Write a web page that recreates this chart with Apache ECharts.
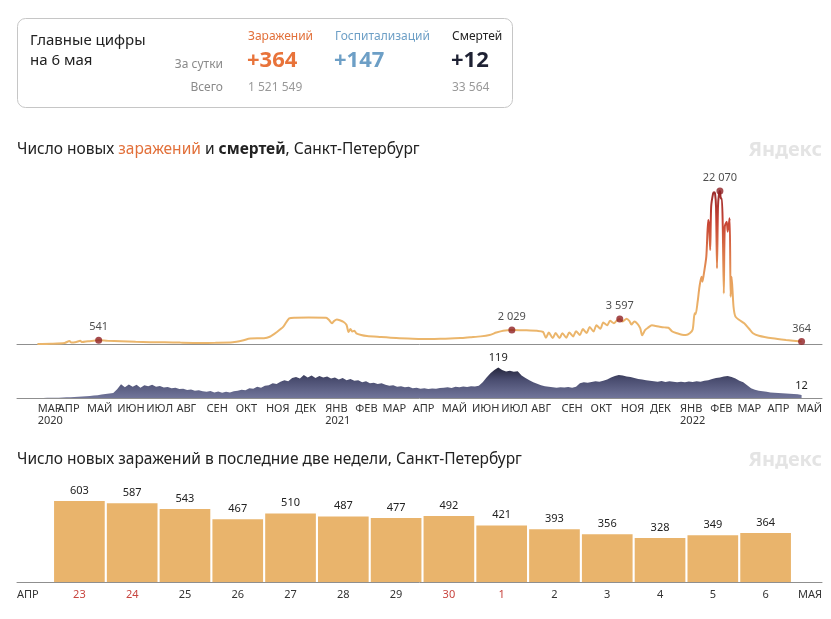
<!DOCTYPE html>
<html lang="ru">
<head>
<meta charset="UTF-8">
<title>Коронавирус, Санкт-Петербург</title>
<style>
    html, body { margin: 0; padding: 0; background: #fff; }
    #main { width: 831px; height: 619px; }
</style>
</head>
<body>
<div id="main"></div>
<script src="https://cdn.jsdelivr.net/npm/echarts@6/dist/echarts.min.js"></script>
<script>
// новые заражения (точки)
var infectionDates = [
    '2020-03-11','2020-03-25','2020-04-08','2020-04-13','2020-04-15','2020-04-20','2020-04-24','2020-04-26',
    '2020-05-02','2020-05-08','2020-05-13','2020-05-22','2020-06-05','2020-06-20','2020-07-05','2020-07-20',
    '2020-08-05','2020-08-25','2020-09-10','2020-09-28','2020-10-08','2020-10-16','2020-10-30','2020-11-05',
    '2020-11-12','2020-11-19','2020-11-25','2020-12-01','2020-12-15','2021-01-02','2021-01-05','2021-01-08',
    '2021-01-10','2021-01-13','2021-01-16','2021-01-20','2021-01-23','2021-01-25','2021-01-27','2021-01-29',
    '2021-01-31','2021-02-02','2021-02-07','2021-02-13','2021-02-26','2021-03-15','2021-04-01','2021-04-20',
    '2021-05-01','2021-05-20','2021-05-30','2021-06-10','2021-06-19','2021-06-26','2021-07-03','2021-07-12',
    '2021-07-25','2021-08-07','2021-08-13','2021-08-16','2021-08-19','2021-08-23','2021-08-26','2021-08-30',
    '2021-09-02','2021-09-06','2021-09-09','2021-09-13','2021-09-16','2021-09-20','2021-09-23','2021-09-27',
    '2021-09-30','2021-10-04','2021-10-07','2021-10-11','2021-10-14','2021-10-18','2021-10-21','2021-10-25',
    '2021-10-28','2021-10-31','2021-11-03','2021-11-07','2021-11-10','2021-11-12','2021-11-15','2021-11-18',
    '2021-11-21','2021-11-23','2021-11-26','2021-11-29','2021-12-03','2021-12-07','2021-12-11','2021-12-16',
    '2021-12-20','2021-12-24','2021-12-29','2022-01-03','2022-01-07','2022-01-11','2022-01-14','2022-01-16',
    '2022-01-17','2022-01-19','2022-01-21','2022-01-23','2022-01-24','2022-01-25','2022-01-28','2022-01-30',
    '2022-01-31','2022-02-01','2022-02-02','2022-02-04','2022-02-05','2022-02-06','2022-02-07','2022-02-08',
    '2022-02-09','2022-02-10','2022-02-11','2022-02-12','2022-02-13','2022-02-14','2022-02-15','2022-02-16',
    '2022-02-18','2022-02-19','2022-02-21','2022-02-22','2022-02-23','2022-02-25','2022-02-27','2022-03-03',
    '2022-03-08','2022-03-13','2022-03-17','2022-03-23','2022-04-06','2022-04-20','2022-05-06'
];
var infectionValues = [
    5, 40, 150, 430, 200, 300, 460, 280,
    400, 470, 541, 470, 400, 320, 260, 250,
    200, 160, 170, 240, 500, 800, 830, 1050,
    1700, 2500, 3700, 3800, 3820, 3800, 3460, 3000,
    3300, 3530, 3420, 3170, 2740, 1730, 2160, 1800,
    1900, 1540, 1300, 1150, 1010, 850, 765, 720,
    760, 850, 970, 1100, 1300, 1650, 1920, 2029,
    1980, 1900, 1750, 900, 1650, 850, 1600, 850,
    1550, 900, 1650, 1100, 1850, 1300, 2150, 1600,
    2450, 1800, 2700, 2200, 3100, 2700, 3350, 3000,
    3400, 3597, 3250, 3650, 3300, 2800, 3250, 2950,
    2300, 1250, 2000, 2350, 2700, 2600, 2500, 2400,
    2350, 1800, 1550, 1350, 1300, 1540, 2100, 4430,
    4300, 6000, 8270, 9710, 9000, 9710, 12600, 17900,
    16930, 13560, 19810, 21740, 21900, 21700, 19810, 10920,
    19810, 21600, 22070, 21000, 21000, 16450, 7300, 16930,
    17650, 16210, 18140, 6830, 9710, 5380, 3940, 3460,
    2990, 2200, 1550, 1200, 820, 580, 364
];

// подписанные точки
var markDates = ['2020-05-13', '2021-07-12', '2021-10-31', '2022-02-11', '2022-05-06'];
var markValues = [541, 2029, 3597, 22070, 364];

// смерти: с 13 марта 2020, шаг 4 дня
var deathStart = [2020, 2, 13];
var deathStep = 4;
var deathValues = [
    0, 0, 1, 1, 1,
    1, 2, 3, 3, 4, 5, 6, 7,
    8, 10, 11, 14, 16, 18, 20,
    34, 54, 42, 53, 44, 52, 40, 50,
    46, 52, 44, 47, 41, 43, 38, 40,
    35, 36, 31, 33, 28, 30, 26,
    24, 27, 22, 25, 21, 24, 22, 26,
    28, 32, 30, 38, 36, 44, 40, 48,
    50, 58, 55, 64, 70, 66, 78,
    82, 76, 90, 80, 88, 78, 86, 80,
    84, 76, 80, 72, 78, 70, 74, 68,
    70, 62, 66, 58, 60, 55, 58,
    52, 48, 50, 44, 46, 42, 44,
    38, 40, 36, 38, 35, 37, 36, 39,
    40, 42, 39, 44, 42, 45, 43, 46,
    45, 48, 62, 80, 97, 110, 119,
    110, 104, 107, 103, 105, 88, 78, 70,
    62, 56, 50, 46, 44, 42, 40, 42,
    41, 43, 40, 44, 58, 62, 60,
    63, 66, 64, 68, 72, 80, 86, 90,
    88, 84, 82, 78, 74, 72, 70,
    68, 66, 64, 67, 63, 66, 64, 62,
    64, 62, 65, 63, 66, 64, 68, 70,
    74, 78, 80, 84, 86, 82, 76,
    68, 62, 50, 38, 32, 28, 26, 24,
    22, 21, 20, 19, 18, 17, 16,
    15, 12
];

// последние две недели
var barDays = ['23', '24', '25', '26', '27', '28', '29', '30', '1', '2', '3', '4', '5', '6'];
var barValues = [603, 587, 543, 467, 510, 487, 477, 492, 421, 393, 356, 328, 349, 364];
var redDays = ['23', '24', '30', '1'];

var monthNames = ['ЯНВ', 'ФЕВ', 'МАР', 'АПР', 'МАЙ', 'ИЮН', 'ИЮЛ', 'АВГ', 'СЕН', 'ОКТ', 'НОЯ', 'ДЕК'];

var FONT = '"Noto Sans", "Open Sans", sans-serif';
var DAY = 24 * 3600 * 1000;

function spaced(v) {
    return String(v).replace(/\B(?=(\d{3})+(?!\d))/g, ' ');
}

var infectionData = infectionDates.map(function (d, i) { return [d, infectionValues[i]]; });
var markData = markDates.map(function (d, i) { return [d, markValues[i]]; });
var deathData = deathValues.map(function (v, i) {
    var d = new Date(deathStart[0], deathStart[1], deathStart[2] + deathStep * i);
    return [d.getTime(), v];
});
var lastDeath = deathData[deathData.length - 1];

var chart = echarts.init(document.getElementById('main'));

var option = {
    animation: false,
    textStyle: { fontFamily: FONT },
    grid: [
        { left: 17, right: 9, top: 150, bottom: 275 },
        { left: 17, right: 9, top: 350, bottom: 221 },
        { left: 53, right: 39, top: 488, bottom: 37 },
        { left: 17, right: 9, top: 581, bottom: 37 }
    ],
    xAxis: [
        {
            type: 'time', gridIndex: 0, min: '2020-02-19', max: '2022-05-27',
            axisLine: { lineStyle: { color: '#8f8f8f', width: 1 } },
            axisTick: { show: false }, axisLabel: { show: false }, splitLine: { show: false }
        },
        {
            type: 'time', gridIndex: 1, min: '2020-02-19', max: '2022-05-27',
            minInterval: 28 * DAY, maxInterval: 31 * DAY,
            axisLine: { lineStyle: { color: '#8f8f8f', width: 1 } },
            axisTick: { show: false }, splitLine: { show: false },
            axisLabel: {
                align: 'left', margin: 5, fontSize: 11, lineHeight: 12, color: '#333',
                fontFamily: FONT,
                formatter: function (v) {
                    var d = new Date(v);
                    var m = monthNames[d.getMonth()];
                    if (d.getFullYear() === 2020 && d.getMonth() === 2) {
                        return '{f|' + m + '}\n{f|2020}';
                    }
                    if (d.getMonth() === 0) return m + '\n' + d.getFullYear();
                    return m;
                },
                rich: {
                    f: { padding: [0, 0, 0, 10], fontSize: 11, lineHeight: 12, color: '#333', fontFamily: FONT }
                }
            }
        },
        {
            type: 'category', gridIndex: 2, data: barDays,
            axisLine: { show: false }, axisTick: { show: false },
            axisLabel: {
                margin: 7, fontSize: 11, color: '#333', fontFamily: FONT,
                formatter: function (v) {
                    return redDays.indexOf(v) >= 0 ? '{r|' + v + '}' : v;
                },
                rich: { r: { color: '#c8453f', fontSize: 11, fontFamily: FONT } }
            }
        },
        {
            type: 'value', gridIndex: 3, min: 0, max: 1, interval: 1,
            axisLine: { show: true, lineStyle: { color: '#8f8f8f', width: 1 } },
            axisTick: { show: false }, splitLine: { show: false },
            axisLabel: {
                margin: 7, fontSize: 11, color: '#333', fontFamily: FONT,
                showMinLabel: true, showMaxLabel: true,
                alignMinLabel: 'left', alignMaxLabel: 'right',
                formatter: function (v) { return v === 0 ? 'АПР' : 'МАЯ'; }
            }
        }
    ],
    yAxis: [
        { type: 'value', gridIndex: 0, min: 0, max: 28000, show: false },
        { type: 'value', gridIndex: 1, min: 0, max: 188, show: false },
        { type: 'value', gridIndex: 2, min: 0, max: 700, show: false },
        { type: 'value', gridIndex: 3, show: false }
    ],
    visualMap: {
        show: false, type: 'continuous', seriesIndex: 0, dimension: 1,
        min: 0, max: 22070,
        inRange: { color: ['#ebb66c', '#ebb46a', '#e8a25e', '#db7448', '#c74334', '#9a2a2b'] }
    },
    series: [
        {
            name: 'Заражения', type: 'line', xAxisIndex: 0, yAxisIndex: 0,
            data: infectionData, showSymbol: false, smooth: 0.25,
            lineStyle: { width: 2 }, z: 2
        },
        {
            name: 'Отметки', type: 'scatter', xAxisIndex: 0, yAxisIndex: 0,
            data: markData, symbolSize: 7, z: 3,
            itemStyle: { color: '#8e1f23' },
            label: {
                show: true, position: 'top', distance: 4, fontSize: 11, color: '#222',
                fontFamily: FONT,
                formatter: function (p) { return spaced(p.value[1]); }
            }
        },
        {
            name: 'Смерти', type: 'line', xAxisIndex: 1, yAxisIndex: 1,
            data: deathData, showSymbol: false, smooth: false,
            lineStyle: { width: 0 },
            areaStyle: {
                opacity: 1,
                color: new echarts.graphic.LinearGradient(0, 0, 0, 1, [
                    { offset: 0, color: '#25263d' },
                    { offset: 0.4, color: '#4a4d70' },
                    { offset: 1, color: '#71759a' }
                ])
            },
            markPoint: {
                symbol: 'circle', symbolSize: 0,
                label: {
                    show: true, position: 'top', distance: 4, fontSize: 11, color: '#222',
                    fontFamily: FONT
                },
                data: [
                    { type: 'max' },
                    { coord: lastDeath, value: lastDeath[1] }
                ]
            }
        },
        {
            name: 'Две недели', type: 'bar', xAxisIndex: 2, yAxisIndex: 2,
            data: barValues, barCategoryGap: '4%',
            itemStyle: { color: '#e9b46c' },
            label: { show: true, position: 'top', distance: 5, fontSize: 11, color: '#222', fontFamily: FONT }
        }
    ],
    graphic: [
        {
            type: 'rect', shape: { x: 17.5, y: 18.5, width: 495, height: 89, r: 8 },
            style: { fill: '#fff', stroke: '#c6c6c6', lineWidth: 1 }
        },
        { type: 'text', x: 30, y: 41, style: { text: 'Главные цифры', font: '15px ' + FONT, fill: '#222', verticalAlign: 'middle' } },
        { type: 'text', x: 30, y: 61, style: { text: 'на 6 мая', font: '15px ' + FONT, fill: '#222', verticalAlign: 'middle' } },
        { type: 'text', x: 223, y: 65, style: { text: 'За сутки', font: '12px ' + FONT, fill: '#8a8a8a', align: 'right', verticalAlign: 'middle' } },
        { type: 'text', x: 223, y: 88, style: { text: 'Всего', font: '12px ' + FONT, fill: '#8a8a8a', align: 'right', verticalAlign: 'middle' } },
        { type: 'text', x: 248, y: 37, style: { text: 'Заражений', font: '12px ' + FONT, fill: '#e2703a', verticalAlign: 'middle' } },
        { type: 'text', x: 247, y: 61, style: { text: '+364', font: 'bold 22px ' + FONT, fill: '#e8733a', verticalAlign: 'middle' } },
        { type: 'text', x: 248, y: 88, style: { text: '1 521 549', font: '12px ' + FONT, fill: '#999', verticalAlign: 'middle' } },
        { type: 'text', x: 335, y: 37, style: { text: 'Госпитализаций', font: '12px ' + FONT, fill: '#6d9fc6', verticalAlign: 'middle' } },
        { type: 'text', x: 334, y: 61, style: { text: '+147', font: 'bold 22px ' + FONT, fill: '#6d9fc6', verticalAlign: 'middle' } },
        { type: 'text', x: 452, y: 37, style: { text: 'Смертей', font: '12px ' + FONT, fill: '#222', verticalAlign: 'middle' } },
        { type: 'text', x: 451, y: 61, style: { text: '+12', font: 'bold 22px ' + FONT, fill: '#1e2133', verticalAlign: 'middle' } },
        { type: 'text', x: 452, y: 88, style: { text: '33 564', font: '12px ' + FONT, fill: '#999', verticalAlign: 'middle' } },
        {
            type: 'text', x: 17, y: 150,
            style: {
                text: '{a|Число новых }{o|заражений}{a| и }{b|смертей}{a|, Санкт-Петербург}',
                verticalAlign: 'middle',
                rich: {
                    a: { fontSize: 15.5, fontFamily: FONT, fill: '#222' },
                    o: { fontSize: 15.5, fontFamily: FONT, fill: '#e2703a' },
                    b: { fontSize: 15.5, fontFamily: FONT, fill: '#222', fontWeight: 'bold' }
                }
            }
        },
        { type: 'text', x: 822, y: 150, style: { text: 'Яндекс', font: 'bold 20px ' + FONT, fill: '#e4e4e4', align: 'right', verticalAlign: 'middle' } },
        {
            type: 'text', x: 17, y: 460,
            style: { text: 'Число новых заражений в последние две недели, Санкт-Петербург', font: '15.5px ' + FONT, fill: '#222', verticalAlign: 'middle' }
        },
        { type: 'text', x: 822, y: 460, style: { text: 'Яндекс', font: 'bold 20px ' + FONT, fill: '#e4e4e4', align: 'right', verticalAlign: 'middle' } }
    ]
};

chart.setOption(option);
</script>
</body>
</html>
